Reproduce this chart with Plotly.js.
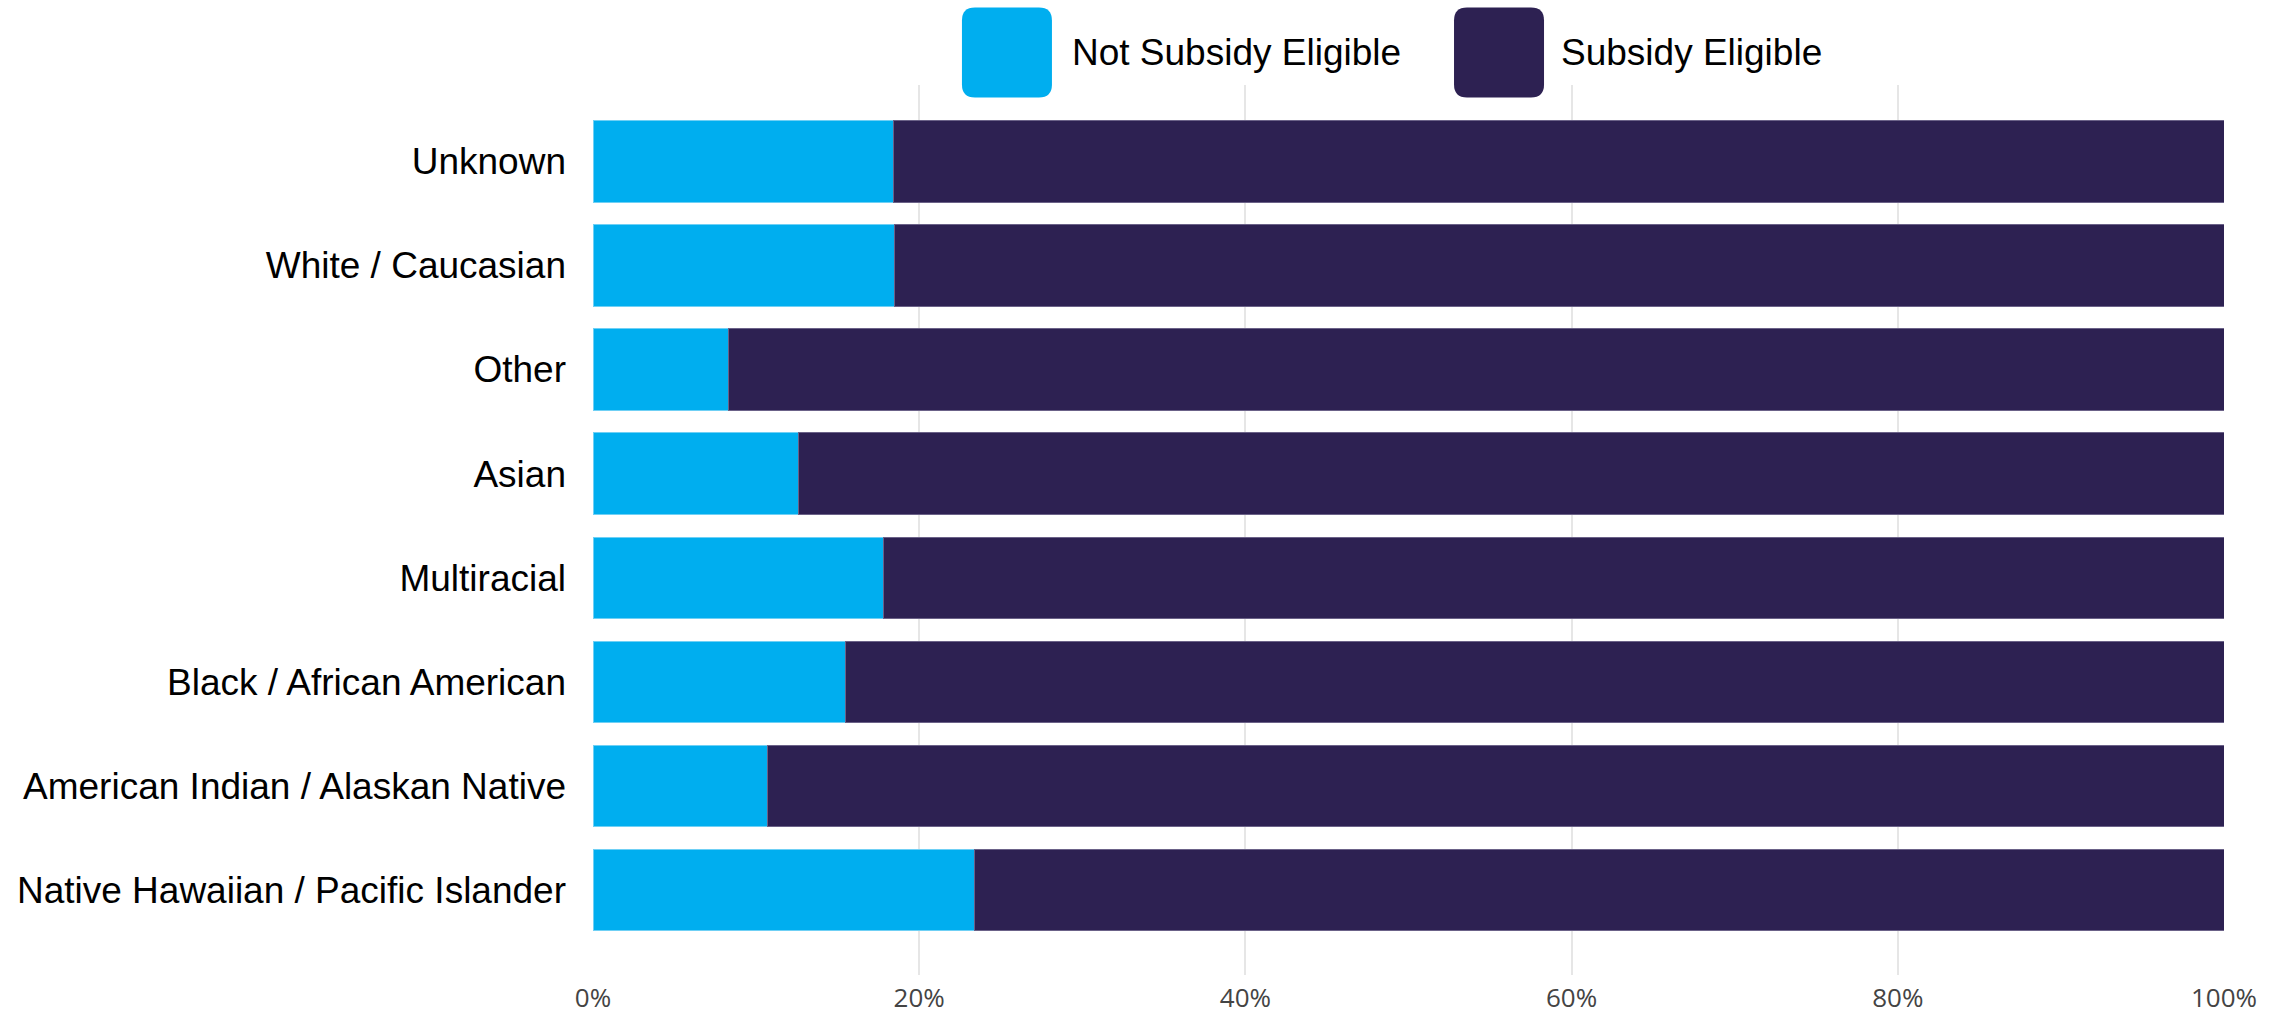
<!DOCTYPE html>
<html>
<head>
<meta charset="utf-8">
<script src="https://cdn.plot.ly/plotly-3.0.1.min.js"></script>
<style>html,body{margin:0;padding:0;background:#fff;}#chart{width:2290px;height:1018px;}</style>
</head>
<body>
<div id="chart"></div>
<script>
const categories = ["Unknown", "White / Caucasian", "Other", "Asian", "Multiracial",
  "Black / African American", "American Indian / Alaskan Native", "Native Hawaiian / Pacific Islander"];
const notEligible = [18.4, 18.5, 8.3, 12.6, 17.8, 15.5, 10.7, 23.4];
const eligible = [81.6, 81.5, 91.7, 87.4, 82.2, 84.5, 89.3, 76.6];
const seriesNames = ["Not Subsidy Eligible", "Subsidy Eligible"];
const seriesColors = ["#00AEEF", "#2D2152"];
const tickVals = [0, 20, 40, 60, 80, 100];
const tickText = ["0%", "20%", "40%", "60%", "80%", "100%"];

const traces = [
  {type: "bar", orientation: "h", name: seriesNames[0], y: categories, x: notEligible,
   marker: {color: seriesColors[0], line: {color: "#6fd0f5", width: 1}}, width: 0.78},
  {type: "bar", orientation: "h", name: seriesNames[1], y: categories, x: eligible,
   marker: {color: seriesColors[1], line: {color: "#6b6288", width: 1}}, width: 0.78}
];

function rrect(h, r) {
  return `M ${-h+r},${-h} L ${h-r},${-h} Q ${h},${-h} ${h},${-h+r} L ${h},${h-r} Q ${h},${h} ${h-r},${h} L ${-h+r},${h} Q ${-h},${h} ${-h},${h-r} L ${-h},${-h+r} Q ${-h},${-h} ${-h+r},${-h} Z`;
}
const legX = [0.2538, 0.5555];
const legTextX = [0.2925, 0.5925];
const legY = 1.0365;

const layout = {
  width: 2290, height: 1018,
  margin: {l: 593, r: 66, t: 85, b: 43},
  barmode: "stack",
  showlegend: false,
  paper_bgcolor: "#fff", plot_bgcolor: "#fff",
  font: {family: "Liberation Sans, Arial, sans-serif", color: "#000"},
  xaxis: {
    range: [0, 100], tickvals: tickVals, ticktext: tickText,
    showgrid: true, gridcolor: "#e6e6e6", gridwidth: 2,
    zeroline: false, showline: false, ticks: "",
    tickfont: {family: "Open Sans, sans-serif", size: 26, color: "#444"},
    ticklabelstandoff: 5, automargin: false, fixedrange: true
  },
  yaxis: {
    type: "category", range: [7.82, -0.735],
    showgrid: false, zeroline: false, showline: false, ticks: "",
    tickfont: {family: "Liberation Sans, Arial, sans-serif", size: 37, color: "#000"},
    ticklabelstandoff: 26, automargin: false, fixedrange: true
  },
  shapes: legX.map((x, i) => ({
    type: "path", xref: "paper", yref: "paper",
    xsizemode: "pixel", ysizemode: "pixel", xanchor: x, yanchor: legY,
    path: rrect(45, 13), fillcolor: seriesColors[i], line: {width: 0}
  })),
  annotations: legTextX.map((x, i) => ({
    xref: "paper", yref: "paper", x: x, y: legY, xanchor: "left", yanchor: "middle",
    text: seriesNames[i], showarrow: false,
    font: {family: "Liberation Sans, Arial, sans-serif", size: 37, color: "#000"}
  }))
};

Plotly.newPlot("chart", traces, layout, {displayModeBar: false, staticPlot: true});
</script>
</body>
</html>
